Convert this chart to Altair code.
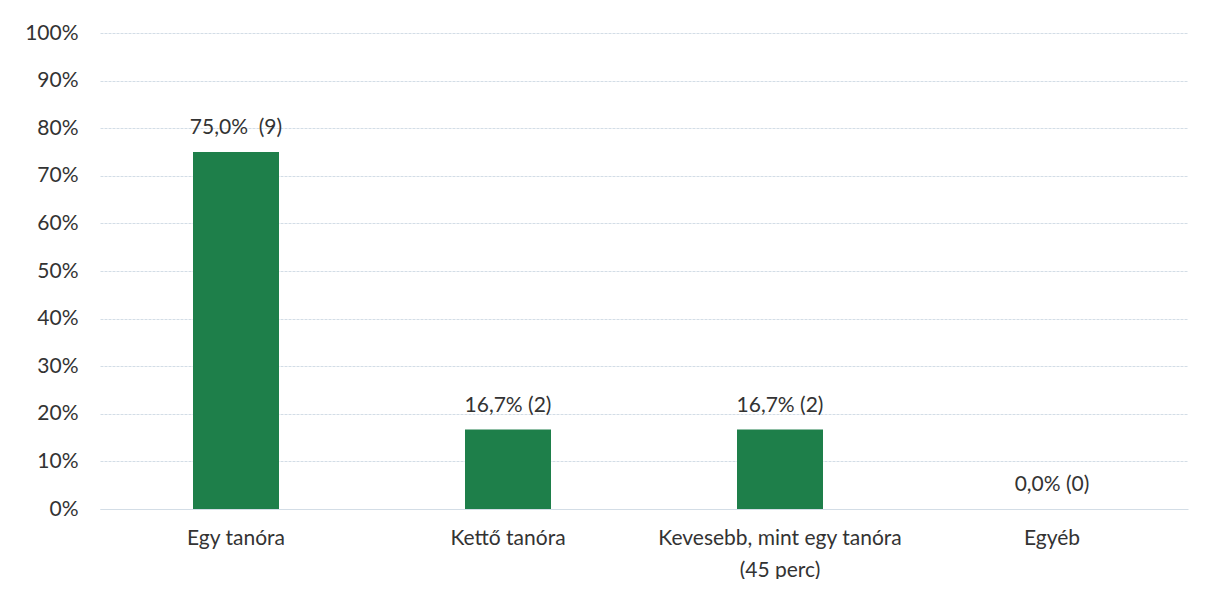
import altair as alt
import pandas as pd

categories = ["Egy tanóra", "Kettő tanóra", "Kevesebb, mint egy tanóra|(45 perc)", "Egyéb"]
shares = [0.75, 0.167, 0.167, 0.0]
counts = [9, 2, 2, 0]
labels = ["75,0%\u00a0 (9)", "16,7% (2)", "16,7% (2)", "0,0% (0)"]

df = pd.DataFrame({"cat": categories, "share": shares, "count": counts, "label": labels})

FONT = "Lato"
FS = 21
TXT = "#333333"
GRID = "#d3dde6"

x = alt.X("cat:N", sort=categories, title=None,
          scale=alt.Scale(paddingInner=0, paddingOuter=0),
          axis=alt.Axis(labelAngle=0, labelExpr="split(datum.label, '|')",
                        labelFont=FONT, labelFontSize=FS, labelColor=TXT,
                        labelPadding=18, labelLineHeight=32, labelLimit=0,
                        ticks=False, domain=True, domainColor=GRID,
                        labelBaseline="top"))
y = alt.Y("share:Q", title=None,
          scale=alt.Scale(domain=[0, 1]),
          axis=alt.Axis(format=".0%", values=[i / 10 for i in range(11)],
                        labelFont=FONT, labelFontSize=FS, labelColor=TXT,
                        labelPadding=22, labelOverlap=False, ticks=False, domain=False,
                        grid=True, gridColor=GRID, gridDash=[3, 1]))

bars = alt.Chart(df).mark_bar(size=86, color="#1e7f4a").encode(x=x, y=y)
text = alt.Chart(df).mark_text(font=FONT, fontSize=FS, color=TXT, dy=-18,
                               baseline="alphabetic").encode(x=x, y=y, text="label:N")

chart = (bars + text).properties(
    width=1088, height=476,
    background="white",
    autosize=alt.AutoSizeParams(type="none"),
    padding={"left": 92, "top": 25, "right": 20, "bottom": 70},
).configure_view(stroke=None)

chart.save("out.html", embed_options={"renderer": "svg", "actions": False})
